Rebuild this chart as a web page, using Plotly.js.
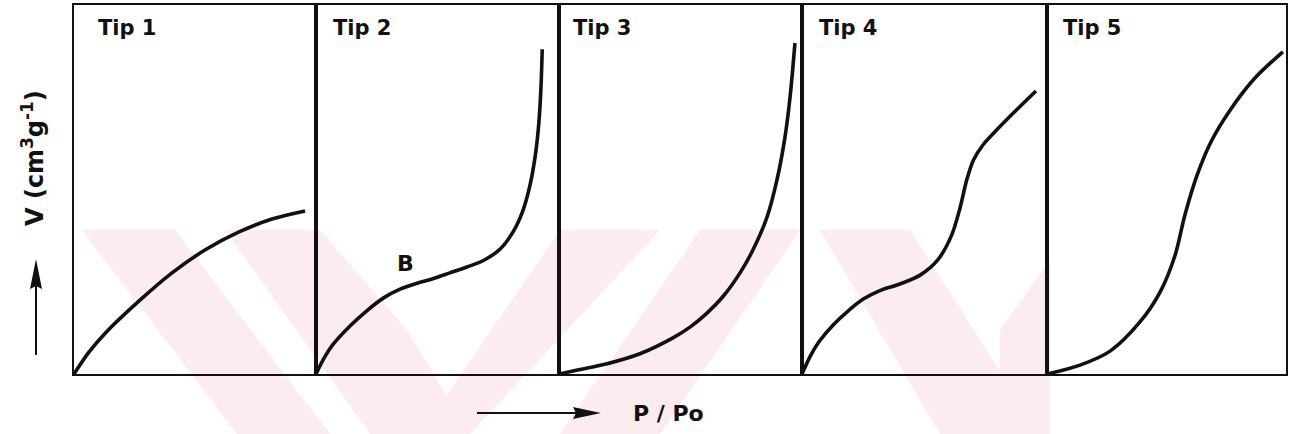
<!DOCTYPE html>
<html>
<head>
<meta charset="utf-8">
<script src="https://cdn.plot.ly/plotly-3.0.1.min.js"></script>
<style>html,body{margin:0;padding:0;background:#fff}#chart{width:1292px;height:434px}</style>
</head>
<body>
<div id="chart"></div>
<script>
// ---- data (relative P/Po and V, each panel normalised 0..1) ----
const panelTitles = ["Tip\u00A01", "Tip\u00A02", "Tip\u00A03", "Tip\u00A04", "Tip\u00A05"];

const tip1X = [0, 0.06, 0.128, 0.269, 0.405, 0.541, 0.682, 0.818, 0.955];
const tip1Y = [0, 0.058, 0.110, 0.198, 0.274, 0.336, 0.385, 0.420, 0.442];

const tip2X = [0, 0.035, 0.070, 0.140, 0.210, 0.280, 0.346, 0.416, 0.481, 0.551, 0.621, 0.687, 0.757, 0.811, 0.850, 0.880, 0.902, 0.917, 0.926, 0.931];
const tip2Y = [0, 0.045, 0.080, 0.130, 0.172, 0.207, 0.230, 0.246, 0.258, 0.274, 0.290, 0.307, 0.338, 0.385, 0.440, 0.510, 0.590, 0.680, 0.780, 0.880];

const tip3X = [0, 0.086, 0.198, 0.333, 0.469, 0.539, 0.609, 0.675, 0.745, 0.798, 0.856, 0.897, 0.930, 0.951, 0.971];
const tip3Y = [0, 0.012, 0.028, 0.055, 0.098, 0.127, 0.165, 0.210, 0.274, 0.336, 0.425, 0.526, 0.642, 0.751, 0.897];

const tip4X = [0, 0.035, 0.070, 0.130, 0.190, 0.250, 0.318, 0.400, 0.482, 0.555, 0.610, 0.645, 0.672, 0.700, 0.740, 0.800, 0.870, 0.955];
const tip4Y = [0, 0.050, 0.088, 0.135, 0.172, 0.203, 0.226, 0.244, 0.268, 0.310, 0.375, 0.450, 0.525, 0.580, 0.622, 0.665, 0.712, 0.767];

const tip5X = [0, 0.138, 0.264, 0.389, 0.473, 0.536, 0.577, 0.628, 0.690, 0.766, 0.870, 0.987];
const tip5Y = [0, 0.024, 0.062, 0.141, 0.222, 0.322, 0.431, 0.539, 0.634, 0.715, 0.802, 0.873];

const pointLabel = {text: "B", panel: 2, x: 0.37, y: 0.30};
const xLabel = "P / Po";
const yLabel = "V (cm<sup>3</sup>g<sup>-1</sup>)";

// ---- layout helpers ----
const W = 1292, H = 434;
const M = {l: 74, r: 6, t: 5, b: 60};
const PW = W - M.l - M.r, PH = H - M.t - M.b;
const edgesPx = [74, 316, 559, 802, 1047, 1286];
const px = x => (x - M.l) / PW;
const py = y => (M.t + PH - y) / PH;

const curvesX = [tip1X, tip2X, tip3X, tip4X, tip5X];
const curvesY = [tip1Y, tip2Y, tip3Y, tip4Y, tip5Y];
const ink = "#111111";

const traces = curvesX.map((xs, i) => ({
  type: "scatter", mode: "lines",
  x: xs, y: curvesY[i],
  xaxis: i === 0 ? "x" : "x" + (i + 1),
  yaxis: i === 0 ? "y" : "y" + (i + 1),
  line: {color: ink, width: 3.6, shape: "spline", smoothing: 0.9},
  hoverinfo: "skip", showlegend: false
}));

const layout = {
  width: W, height: H,
  margin: M,
  paper_bgcolor: "#ffffff", plot_bgcolor: "rgba(0,0,0,0)",
  showlegend: false,
  annotations: [], shapes: []
};

const axBase = {
  range: [0, 1], showline: true, mirror: true, linecolor: ink, linewidth: 2.2,
  showgrid: false, zeroline: false, showticklabels: false, ticks: "", fixedrange: true
};
for (let i = 0; i < 5; i++) {
  const s = i === 0 ? "" : String(i + 1);
  layout["xaxis" + s] = Object.assign({}, axBase, {
    domain: [px(edgesPx[i]), px(edgesPx[i + 1])], anchor: "y" + s
  });
  layout["yaxis" + s] = Object.assign({}, axBase, {
    domain: [0, 1], anchor: "x" + s
  });
}

const titleLeftPx = [96, 331, 571, 817, 1061];
const font = (size) => ({family: "DejaVu Sans, Arial, sans-serif", size: size, color: ink, weight: "bold"});
panelTitles.forEach((t, i) => {
  layout.annotations.push({
    xref: "paper", yref: "paper", x: px(titleLeftPx[i]), y: py(28),
    xanchor: "left", yanchor: "middle", showarrow: false,
    text: t, font: font(21)
  });
});

// B label
layout.annotations.push({
  xref: "x" + pointLabel.panel, yref: "y" + pointLabel.panel,
  x: pointLabel.x, y: pointLabel.y, showarrow: false,
  text: pointLabel.text, font: font(22)
});

// axis labels
layout.annotations.push({
  xref: "paper", yref: "paper", x: px(668), y: py(413),
  xanchor: "center", yanchor: "middle", showarrow: false,
  text: xLabel, font: font(22)
});
layout.annotations.push({
  xref: "paper", yref: "paper", x: px(33), y: py(158),
  xanchor: "center", yanchor: "middle", showarrow: false, textangle: -90,
  text: yLabel, font: font(24)
});

// arrows drawn as shapes (line + triangular head)
function pathShape(pts, closed, fill) {
  return {
    type: "path", xref: "paper", yref: "paper", layer: "above",
    path: "M" + pts.map(p => px(p[0]) + "," + py(p[1])).join(" L") + (closed ? " Z" : ""),
    fillcolor: fill || "rgba(0,0,0,0)", line: {color: ink, width: closed ? 0 : 2}
  };
}
layout.shapes.push(pathShape([[477, 413], [580, 413]], false));
layout.shapes.push(pathShape([[601, 413], [573, 407], [576, 413], [573, 419]], true, ink));
layout.shapes.push(pathShape([[36, 355], [36, 280]], false));
layout.shapes.push(pathShape([[36, 259], [30, 289], [36, 286], [42, 289]], true, ink));

// faint background watermark bands
const pink = "#fdecef";
function band(pts) {
  return {
    type: "path", xref: "paper", yref: "paper", layer: "below",
    path: "M" + pts.map(p => px(p[0]) + "," + py(p[1])).join(" L") + " Z",
    fillcolor: pink, line: {width: 0}
  };
}
const wmBands = [
  [[82, 230], [175, 230], [330, 434], [237, 434]],
  [[225, 230], [320, 230], [407, 330], [470, 434], [370, 434]],
  [[470, 434], [420, 434], [560, 230], [660, 230]],
  [[560, 434], [660, 434], [800, 230], [700, 230]],
  [[820, 230], [910, 230], [1040, 434], [940, 434]],
  [[1000, 330], [1050, 260], [1050, 434], [1000, 434]]
];
wmBands.forEach(b => layout.shapes.push(band(b)));

Plotly.newPlot("chart", traces, layout, {staticPlot: true, displayModeBar: false});
</script>
</body>
</html>
